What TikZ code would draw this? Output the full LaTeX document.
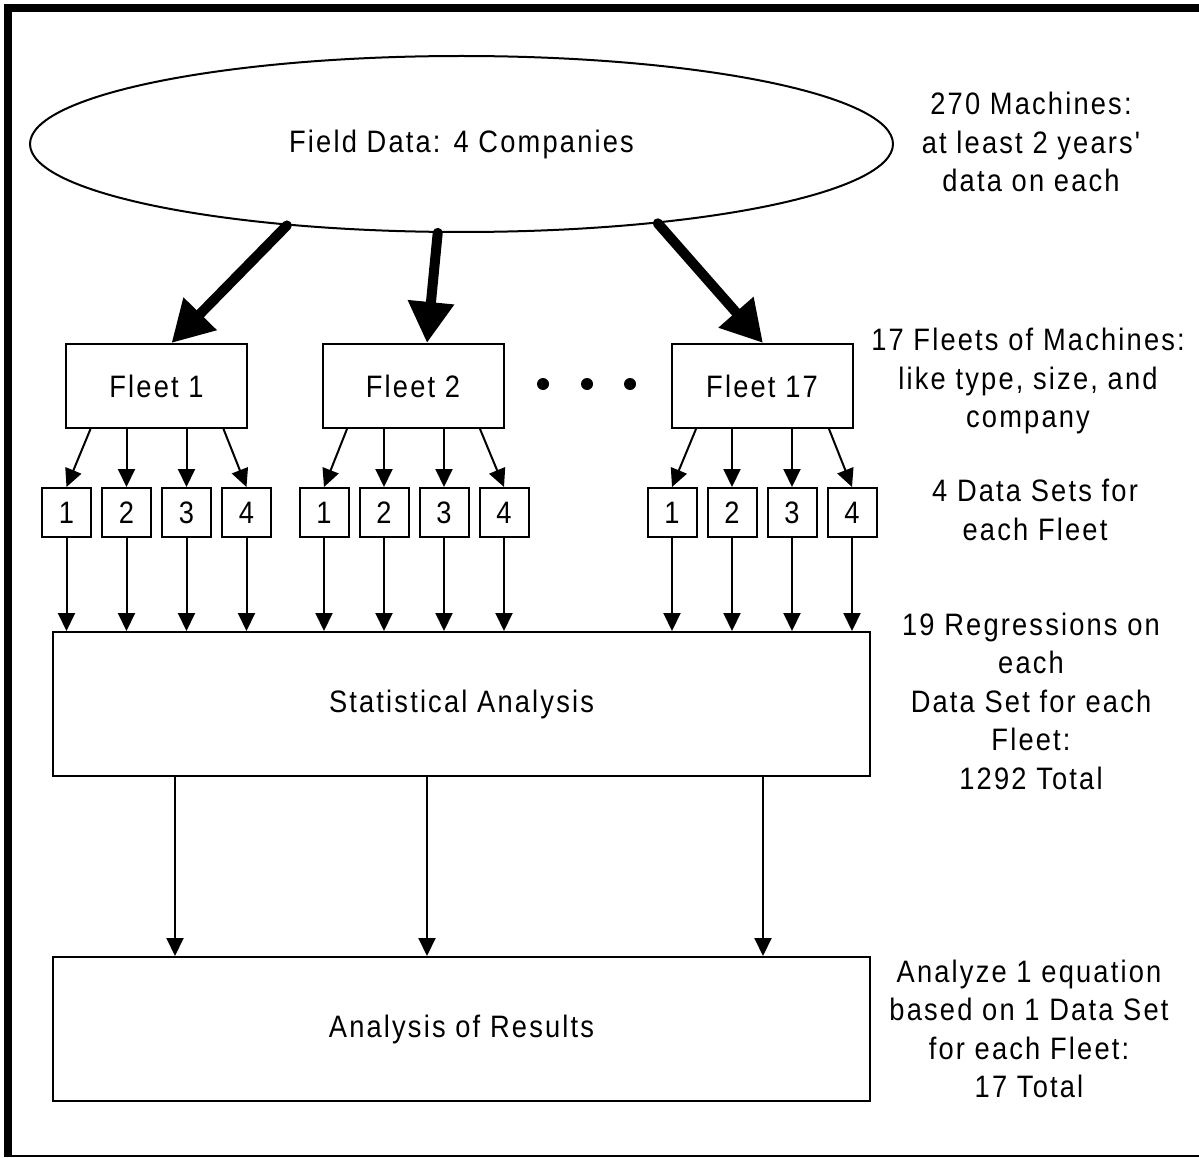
\documentclass[tikz,border=0pt]{standalone}
\usepackage{fontspec}
\setmainfont{Liberation Sans}[LetterSpace=7,FakeStretch=0.88,Ligatures=TeXOff]
\usetikzlibrary{shapes.geometric,arrows.meta,calc}
\begin{document}
\begin{tikzpicture}[x=1pt,y=-1pt,
  txt/.style={font=\fontsize{31}{38.5}\selectfont},
  box/.style={draw,line width=2pt,inner sep=0pt,txt},
  fleetbox/.style={box,minimum width=181pt,minimum height=84pt},
  setbox/.style={box,minimum width=49pt,minimum height=49pt},
  bigbox/.style={box,minimum width=817pt,minimum height=144pt},
  bigarrow/.style={line width=10pt,line cap=round,-{Triangle[length=41pt,width=44pt]}},
  thinarrow/.style={line width=2pt,-{Triangle[length=18pt,width=17pt]}},
  dot/.style={circle,fill,inner sep=0pt,minimum size=12pt},
  lbl/.style={txt,align=center}
]
\useasboundingbox (0,0) rectangle (1199,1158);
\clip (0,0) rectangle (1199,1158);
% frame
\draw[line width=8pt] (8,1157) -- (8,8) -- (1210,8);
\draw[line width=2.5pt] (4,1156) -- (1210,1156);

% top ellipse
\node[draw,ellipse,line width=2pt,inner sep=0pt,minimum width=863pt,minimum height=176pt,txt] (field) at (461.5,144) {Field Data: 4 Companies};

% fleets
\node[fleetbox] (f1) at (156.5,386) {Fleet 1};
\node[fleetbox] (f2) at (413,386) {Fleet 2};
\node[fleetbox] (f17) at (762,386) {Fleet 17};
\node[dot] (d1) at (543,384) {};
\node[dot] (d2) at (587,384) {};
\node[dot] (d3) at (630,384) {};

\draw[bigarrow] (field.205) -- ([xshift=15pt]f1.north);
\draw[bigarrow] (field.255) -- ([xshift=14pt]f2.north);
\draw[bigarrow] (field.-22.5) -- ([xshift=1pt]f17.north);

% data sets
\foreach \f/\c in {f1/156.5,f2/414,f17/762}{
  \node[setbox] (\f a) at (\c-90,512.5) {1};
  \node[setbox] (\f b) at (\c-30,512.5) {2};
  \node[setbox] (\f c) at (\c+30,512.5) {3};
  \node[setbox] (\f d) at (\c+90,512.5) {4};
}

% statistical analysis / results
\node[bigbox] (sa) at (461.5,704) {Statistical Analysis};
\node[bigbox] (aor) at (461.5,1029) {Analysis of Results};

\foreach \f in {f1,f2,f17}{
  \draw[thinarrow] ([xshift=-66pt]\f.south) -- (\f a.north);
  \draw[thinarrow] (\f.south -| \f b) -- (\f b.north);
  \draw[thinarrow] (\f.south -| \f c) -- (\f c.north);
  \draw[thinarrow] ([xshift=67pt]\f.south) -- (\f d.north);
  \foreach \s in {a,b,c,d}{
    \draw[thinarrow] (\f\s.south) -- (\f\s.south |- sa.north);
  }
}

\foreach \dx in {-286.5,-34.5,301.5}{
  \draw[thinarrow] ([xshift=\dx pt]sa.south) -- ([xshift=\dx pt]aor.north);
}

% right-hand labels
\node[lbl] (l1) at (1031,142) {270 Machines:\\at least 2 years'\\data on each};
\node[lbl] (l2) at (1028,381) {17 Fleets of Machines:\\like type, size, and\\company};
\node[lbl] (l3) at (1035,510) {4 Data Sets for\\each Fleet};
\node[lbl] (l4) at (1031,701) {19 Regressions on\\each\\Data Set for each\\Fleet:\\1292 Total};
\node[lbl] (l5) at (1029,1029) {Analyze 1 equation\\based on 1 Data Set\\for each Fleet:\\17 Total};
\end{tikzpicture}
\end{document}
